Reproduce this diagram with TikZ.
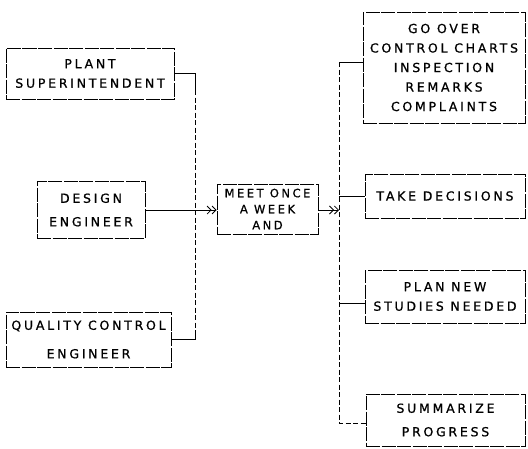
\documentclass[tikz,border=0pt]{standalone}
\usepackage{fontspec}
\setmainfont{DejaVu Sans}[LetterSpace=22, FakeBold=0.8]
\usetikzlibrary{arrows.meta, positioning}

\begin{document}
\begin{tikzpicture}[
    x=1pt, y=-1pt,
    box/.style={
      rectangle, draw, line width=0.8pt, dash pattern=on 14pt off 1.5pt,
      align=center, inner sep=0pt, font=\fontsize{12.5}{19.5}\selectfont
    },
    link/.style={line width=0.8pt},
    bus/.style={line width=0.7pt, dash pattern=on 5pt off 2.5pt},
    arrow/.style={link, -{Straight Barb[length=4pt]Straight Barb[length=4pt]}},
  ]
    \useasboundingbox (0,0) rectangle (528,448);

    % People
    \node[box, minimum width=168pt, minimum height=51pt] (plant) at (90,73.5)
      {PLANT\\SUPERINTENDENT};
    \node[box, minimum width=108pt, minimum height=57pt] (design) at (91,210)
      {DESIGN\\[4pt]ENGINEER};
    \node[box, minimum width=165pt, minimum height=55pt] (quality) at (88.5,339.5)
      {QUALITY CONTROL\\[9pt]ENGINEER};

    % Meeting
    \node[box, minimum width=101pt, minimum height=50pt,
      font=\fontsize{11.5}{16}\selectfont] (meet) at (267.5,209)
      {MEET ONCE\\A WEEK\\AND};

    % Tasks
    \node[box, minimum width=162pt, minimum height=111pt] (goover) at (444,67.5)
      {GO OVER\\CONTROL CHARTS\\INSPECTION\\REMARKS\\COMPLAINTS};
    \node[box, minimum width=160pt, minimum height=44pt] (decide) at (445,196)
      {TAKE DECISIONS};
    \node[box, minimum width=160pt, minimum height=53pt] (plannew) at (445,296.5)
      {PLAN NEW\\STUDIES NEEDED};
    \node[box, minimum width=159pt, minimum height=52pt] (summ) at (445.5,420)
      {SUMMARIZE\\[4pt]PROGRESS};

    % Buses
    \coordinate (inBot) at (195,339.5);
    \coordinate (outTop) at (339,62);
    \coordinate (outBot) at (339,423);

    % Arrows
    \draw[link] (plant.east) -| (195,90);
    \draw[bus] (195,90) -- (195,330);
    \draw[link] (quality.east) -- (inBot) -- (195,330);
    \draw[arrow] (design.east) -- (design.east -| meet.west);
    \draw[arrow] (meet.east |- design.east) -- (design.east -| outTop);
    \draw[link] (outTop -| goover.west) -- (outTop);
    \draw[bus] (outTop) -- (outBot) -- (outBot -| summ.west);
    \draw[link] (decide.west) -- (decide.west -| outTop);
    \draw[link] ([yshift=-6.5pt]plannew.west) -- ([yshift=-6.5pt]plannew.west -| outTop);
  \end{tikzpicture}
\end{document}
